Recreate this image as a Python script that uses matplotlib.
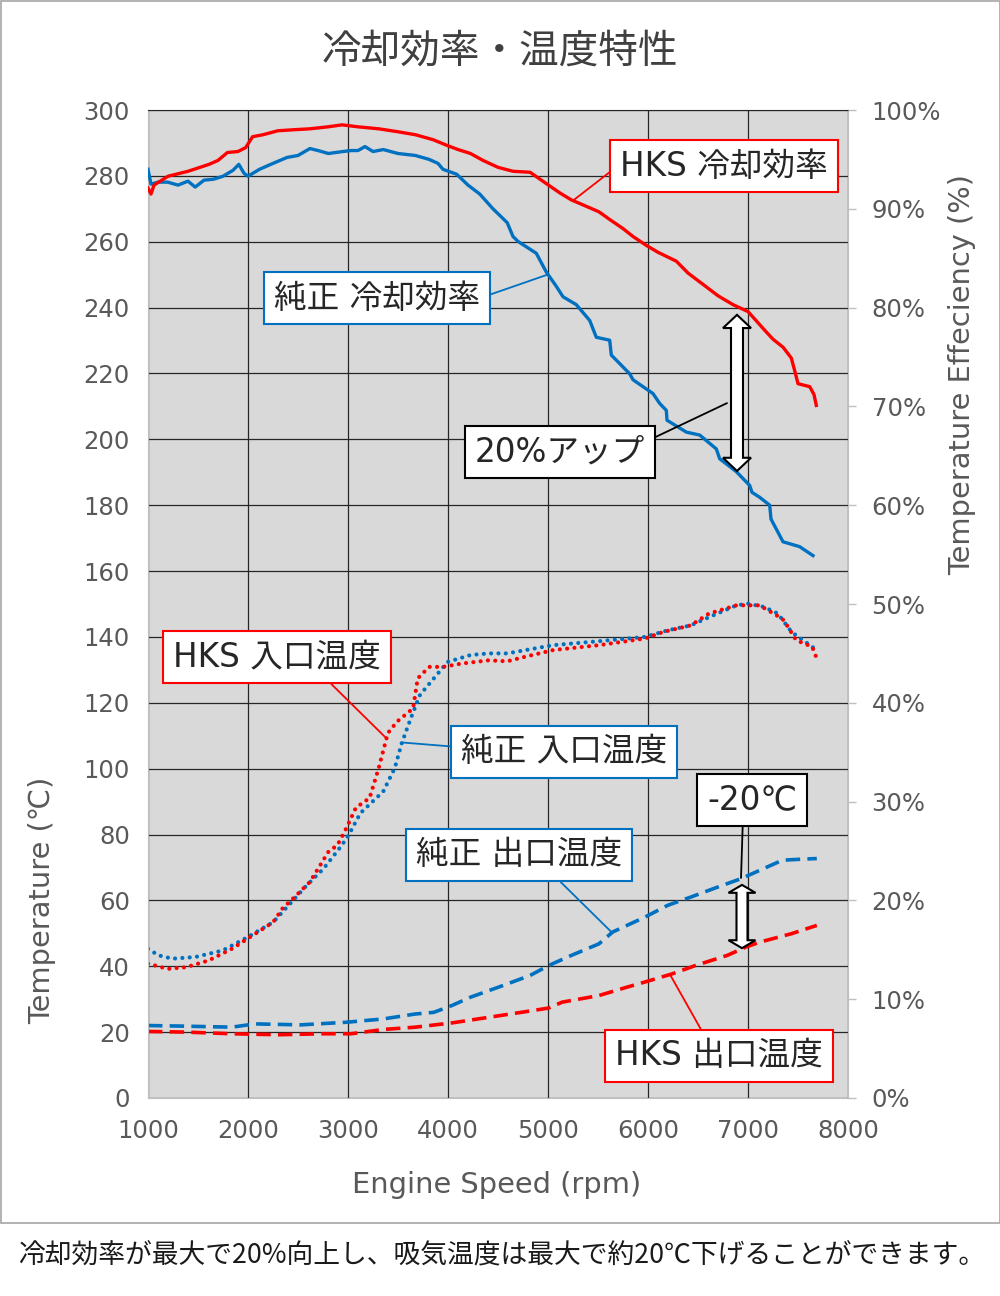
import numpy as np
import matplotlib.pyplot as plt
from matplotlib.patches import Polygon, Rectangle

plt.rcParams['font.family'] = ['DejaVu Sans', 'Noto Sans CJK JP']

# cooling efficiency (%)
hks_eff_rpm = [1000, 1030, 1060, 1200, 1400, 1610, 1700, 1794, 1900, 1977, 2046, 2150, 2298, 2450, 2619,
               2800, 2940, 3100, 3307, 3500, 3674, 3850, 3995, 4100, 4225, 4350, 4500, 4650, 4821, 4920,
               5005, 5120, 5234, 5350, 5509, 5620, 5750, 5850, 5983, 6100, 6283, 6400, 6583, 6700, 6850,
               7000, 7080, 7150, 7250, 7350, 7433, 7470, 7500, 7617, 7660, 7683]
hks_eff = [92.1, 91.5, 92.4, 93.3, 93.8, 94.5, 94.9, 95.7, 95.8, 96.2, 97.3, 97.5, 97.9, 98.0, 98.1,
           98.3, 98.5, 98.3, 98.1, 97.8, 97.5, 97.0, 96.4, 96.0, 95.6, 94.9, 94.2, 93.8, 93.7, 93.0,
           92.4, 91.6, 90.9, 90.4, 89.7, 88.9, 88.0, 87.2, 86.3, 85.6, 84.7, 83.5, 82.1, 81.2, 80.3,
           79.6, 78.7, 77.9, 76.8, 76.0, 74.9, 73.5, 72.3, 72.0, 71.2, 70.1]

std_eff_rpm = [1000, 1030, 1100, 1197, 1300, 1400, 1472, 1560, 1656, 1750, 1850, 1908, 1960, 2000, 2115,
               2250, 2390, 2500, 2619, 2700, 2803, 2950, 3032, 3100, 3170, 3250, 3353, 3500, 3674, 3812,
               3900, 3950, 4087, 4200, 4317, 4450, 4592, 4650, 4700, 4883, 4983, 5080, 5150, 5283, 5417,
               5483, 5617, 5633, 5817, 5850, 6050, 6117, 6183, 6190, 6383, 6517, 6683, 6717, 6883, 7017,
               7040, 7117, 7217, 7230, 7350, 7517, 7650]
std_eff = [94.0, 92.5, 92.7, 92.7, 92.4, 92.8, 92.2, 92.9, 93.0, 93.3, 93.9, 94.5, 93.6, 93.3, 94.0,
           94.6, 95.2, 95.4, 96.1, 95.9, 95.6, 95.8, 95.9, 95.9, 96.3, 95.8, 96.0, 95.6, 95.4, 95.0,
           94.6, 94.0, 93.5, 92.4, 91.5, 90.0, 88.6, 87.2, 86.7, 85.5, 83.6, 82.2, 81.1, 80.3, 78.7,
           77.0, 76.7, 75.2, 73.3, 72.7, 71.3, 70.3, 69.6, 68.6, 67.4, 67.1, 65.7, 64.7, 63.4, 62.0,
           61.3, 60.8, 60.0, 58.6, 56.3, 55.8, 54.9]

# inlet temperature (C)
std_in_rpm = [1000, 1105, 1243, 1472, 1748, 2000, 2252, 2436, 2573, 2757, 2940, 3009, 3124, 3353, 3468,
              3537, 3628, 3720, 3858, 3995, 4225, 4408, 4592, 4867, 5050, 5509, 5968, 6197, 6427, 6656,
              6885, 7000, 7161, 7298, 7436, 7573, 7688]
std_in = [45.3, 43.3, 42.3, 42.8, 44.8, 48.9, 53.4, 59.5, 64.1, 69.7, 76.8, 80.0, 86.5, 93.1, 100.2,
          107.7, 115.3, 122.4, 127.4, 132.4, 134.5, 135.0, 135.0, 136.5, 137.5, 138.7, 140.0, 142.0, 143.5, 146.6,
          149.6, 150.1, 149.1, 147.1, 141.5, 138.5, 136.0]

hks_in_rpm = [1000, 1197, 1381, 1610, 1839, 2023, 2252, 2344, 2482, 2619, 2803, 2894, 2960, 3000, 3078,
              3216, 3307, 3399, 3491, 3651, 3697, 3812, 3950, 4133, 4408, 4592, 4775, 5050, 5509, 5968,
              6151, 6427, 6610, 6885, 7115, 7344, 7390, 7482, 7642, 7688]
hks_in = [40.8, 39.2, 39.7, 41.8, 45.3, 48.9, 53.4, 57.5, 61.5, 65.6, 74.7, 76.8, 80.5, 83.0, 88.1,
          91.1, 100.2, 110.8, 114.3, 118.3, 127.4, 130.9, 130.9, 131.9, 132.9, 132.6, 134.0, 136.0, 137.5, 139.5,
          141.5, 143.5, 147.1, 149.6, 149.6, 145.5, 143.5, 139.0, 137.0, 133.4]

# outlet temperature (C)
std_out_rpm = [1000, 1381, 1839, 2069, 2528, 2986, 3353, 3674, 3858, 4041, 4225, 4500, 4821, 4913, 5005,
               5234, 5509, 5647, 5968, 6197, 6427, 6702, 6931, 7115, 7344, 7528, 7688]
std_out = [22.0, 21.8, 21.5, 22.5, 22.2, 23.0, 24.0, 25.5, 26.0, 28.1, 30.6, 33.6, 37.2, 38.7, 40.2,
           43.3, 46.8, 50.4, 54.9, 58.5, 61.0, 64.1, 66.6, 69.1, 72.2, 72.5, 72.7]

hks_out_rpm = [1000, 1381, 1839, 2298, 2757, 3032, 3353, 3674, 4041, 4408, 4775, 5005, 5142, 5509, 5784,
               5968, 6243, 6472, 6793, 6977, 7115, 7436, 7688]
hks_out = [20.2, 20.0, 19.5, 19.2, 19.5, 19.5, 20.8, 21.5, 22.8, 24.5, 26.2, 27.3, 29.1, 31.1, 33.6,
           35.2, 37.7, 40.2, 43.3, 45.8, 47.3, 49.9, 52.4]

RED = '#FF0000'
BLUE = '#0070C0'
GREY_TXT = '#595959'

fig = plt.figure(figsize=(10, 12.96), dpi=100)
ax = fig.add_axes([0.148, 0.1528, 0.70, 0.7623])
ax2 = ax.twinx()

ax.set_facecolor('#d9d9d9')
ax.set_xlim(1000, 8000)
ax.set_ylim(0, 300)
ax.set_xticks(range(1000, 8001, 1000))
ax.set_yticks(range(0, 301, 20))
ax.grid(True, color='#262626', lw=0.9)
ax.set_axisbelow(True)
ax.tick_params(axis='both', length=0, labelsize=17.5, labelcolor=GREY_TXT)
ax.tick_params(axis='y', pad=13)
ax.tick_params(axis='x', pad=15)
for s in ['left', 'bottom', 'right']:
    ax.spines[s].set_color('#bfbfbf')
ax.spines['top'].set_color('#262626')

ax2.set_ylim(0, 100)
ax2.set_yticks(range(0, 101, 10))
ax2.set_yticklabels([f'{v}%' for v in range(0, 101, 10)])
ax2.tick_params(axis='y', length=6, width=1, color='#bfbfbf', labelsize=17.5, labelcolor=GREY_TXT, pad=11)
for s in ax2.spines.values():
    s.set_visible(False)

# temperature curves
dots = (0, (0.01, 1.75))
ax.plot(std_in_rpm, std_in, color=BLUE, lw=3, ls=dots, dash_capstyle='round')
ax.plot(hks_in_rpm, hks_in, color=RED, lw=3, ls=dots, dash_capstyle='round')
ax.plot(std_out_rpm, std_out, color=BLUE, lw=2.6, ls=(0, (4, 2)))
ax.plot(hks_out_rpm, hks_out, color=RED, lw=2.6, ls=(0, (4, 2)))

# efficiency curves
ax2.plot(std_eff_rpm, std_eff, color=BLUE, lw=2.4)
ax2.plot(hks_eff_rpm, hks_eff, color=RED, lw=2.4)


def label(text, pos, target, edge, relpos, coords):
    ax2.annotate(text, xy=target, xycoords=coords, xytext=pos, textcoords=coords,
                 ha='center', va='center', fontsize=23.5, color='#262626', zorder=10,
                 bbox=dict(boxstyle='square,pad=0.3', fc='white', ec=edge, lw=1.5),
                 arrowprops=dict(arrowstyle='-', color=edge, lw=1.3, relpos=relpos,
                                 shrinkA=0, shrinkB=0))


def double_arrow(x0, bot, top, sw, hw, hl):
    pts = [(x0, top), (x0 + hw, top - hl), (x0 + sw, top - hl), (x0 + sw, bot + hl), (x0 + hw, bot + hl),
           (x0, bot), (x0 - hw, bot + hl), (x0 - sw, bot + hl), (x0 - sw, top - hl), (x0 - hw, top - hl)]
    ax2.add_patch(Polygon(pts, closed=True, fc='white', ec='black', lw=1.5,
                          transform=ax.transData, zorder=9))


T = ax.transData
label('HKS 冷却効率', (6760, 283.0), (5250, 3 * np.interp(5250, hks_eff_rpm, hks_eff)), RED, (0, 0.56), T)
label('純正 冷却効率', (3290, 242.9), (5000, 3 * np.interp(5000, std_eff_rpm, std_eff)), BLUE, (1, 0.5), T)
label('20%アップ', (5120, 196.2), (6790, 211), 'black', (1, 0.8), T)
label('HKS 入口温度', (2290, 133.9), (3385, np.interp(3385, hks_in_rpm, hks_in)), RED, (0.71, 0), T)
label('純正 入口温度', (5160, 105.1), (3540, np.interp(3540, std_in_rpm, std_in)), BLUE, (0, 0.64), T)
label('-20℃', (7040, 90.5), (6930, 66.8), 'black', (0.4, 0), T)
label('純正 出口温度', (4710, 73.8), (5640, np.interp(5640, std_out_rpm, std_out)), BLUE, (0.65, 0), T)
label('HKS 出口温度', (6710, 12.8), (6220, np.interp(6220, hks_out_rpm, hks_out)), RED, (0.44, 1), T)

double_arrow(6890, 190.4, 237.8, 60, 140, 4.0)
double_arrow(6940, 45.5, 64.7, 55, 135, 2.4)

fig.text(0.5, 0.96, '冷却効率・温度特性', ha='center', va='center', fontsize=28.5, color='#404040',
         family=['Noto Sans CJK JP', 'DejaVu Sans'])
fig.text(0.497, 0.0857, 'Engine Speed (rpm)', ha='center', va='center', fontsize=20.8, color=GREY_TXT)
fig.text(0.042, 0.305, 'Temperature (℃)', ha='center', va='center', rotation=90, fontsize=20.8, color=GREY_TXT)
fig.text(0.962, 0.711, 'Temperature Effeciency (%)', ha='center', va='center', rotation=90,
         fontsize=20.8, color=GREY_TXT)
fig.text(0.502, 0.031, '冷却効率が最大で20%向上し、吸気温度は最大で約20℃下げることができます。',
         ha='center', va='center', fontsize=19.3, color='#1a1a1a', family=['Noto Sans CJK JP', 'DejaVu Sans'])

fig.patches.append(Rectangle((0.0005, 0.0563), 0.999, 0.943, transform=fig.transFigure,
                             fill=False, ec='#a6a6a6', lw=1.2))

fig.savefig('out.png', dpi=100)
